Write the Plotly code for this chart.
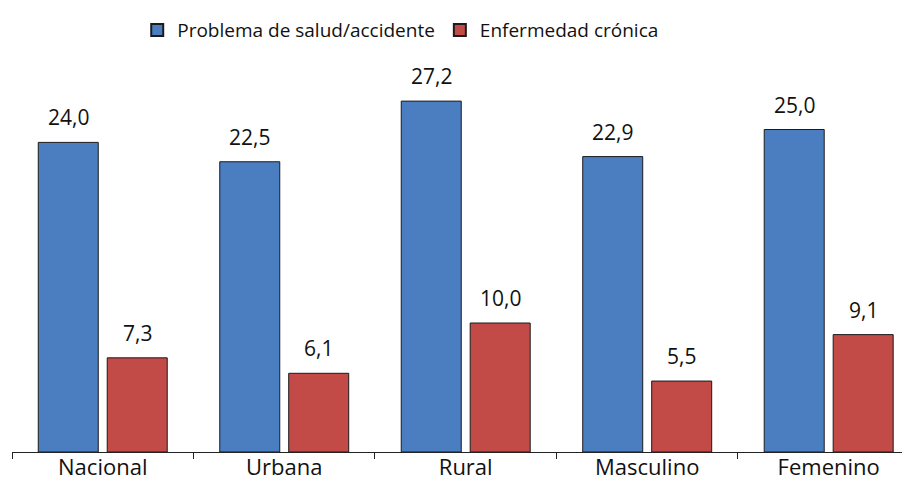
import plotly.graph_objects as go

categories = ["Nacional", "Urbana", "Rural", "Masculino", "Femenino"]
problema = [24.0, 22.5, 27.2, 22.9, 25.0]
cronica = [7.3, 6.1, 10.0, 5.5, 9.1]
series_names = ["Problema de salud/accidente", "Enfermedad crónica"]

FONT = "Open Sans"
colors = ["#4A7EC0", "#C24B48"]

fig = go.Figure()
for name, vals, col in zip(series_names, [problema, cronica], colors):
    fig.add_trace(go.Bar(
        x=categories, y=vals, name=name,
        marker=dict(color=col, line=dict(color="#1b1b1b", width=1)),
    ))

# value labels as annotations (above each bar, with a wider gap)
for vals, shift in zip([problema, cronica], [-34.5, 34.5]):
    for c, v in zip(categories, vals):
        fig.add_annotation(
            x=c, y=v, xref="x", yref="y",
            text=f"{v:.1f}".replace(".", ","),
            showarrow=False, yanchor="bottom", xanchor="center",
            xshift=shift, yshift=9,
            font=dict(size=21, color="#111111", family=FONT),
        )

fig.update_layout(
    width=910, height=481,
    separators=",.",
    barmode="group", bargap=0.24, bargroupgap=0.13,
    plot_bgcolor="white", paper_bgcolor="white",
    margin=dict(l=4, r=8, t=57, b=37),
    font=dict(family=FONT, size=19, color="#111111"),
    legend=dict(orientation="h", x=0.142, xanchor="left", xref="container",
                yref="container", y=0.954, yanchor="middle",
                font=dict(size=19), itemsizing="constant"),
    xaxis=dict(range=[-0.5, 4.448], showline=True, linecolor="#222222",
               linewidth=1, ticks="outside", tickson="boundaries",
               ticklen=6, tickcolor="#222222", showgrid=False,
               automargin=False, ticklabelstandoff=-4,
               tickfont=dict(size=22, color="#111111")),
    yaxis=dict(range=[0, 30], visible=False, showgrid=False, zeroline=False),
)

fig.write_html("out.html")
